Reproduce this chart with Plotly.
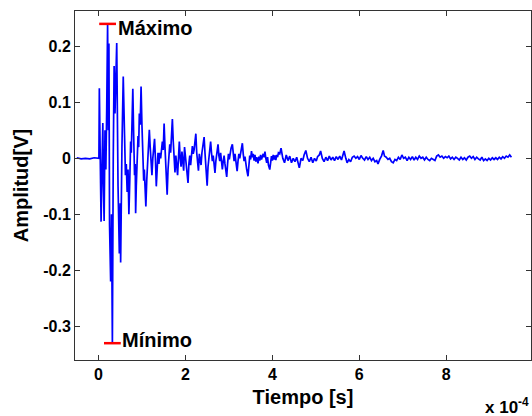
import plotly.graph_objects as go

# time in units of 1e-4 s, amplitude in V
t_burst = [-0.50, -0.40, -0.30, -0.20, -0.10, 0.00, 0.01, 0.02, 0.035, 0.06,
           0.08, 0.10, 0.115, 0.13, 0.15, 0.17, 0.19, 0.21, 0.225, 0.24,
           0.255, 0.28, 0.30, 0.32, 0.34, 0.36, 0.38, 0.42, 0.45, 0.48,
           0.50, 0.51, 0.54, 0.57]
v_burst = [0.001, -0.001, 0.000, -0.001, 0.001, 0.000, 0.000, 0.125, -0.030, -0.113,
           -0.020, 0.063, -0.050, -0.112, 0.050, -0.020, 0.090, 0.240, 0.050, 0.205,
           -0.120, -0.220, -0.100, -0.330, 0.000, 0.165, 0.080, 0.206, -0.050, -0.170,
           -0.080, -0.186, 0.020, 0.146]

t_decay = [0.60, 0.62, 0.64, 0.66, 0.68, 0.70, 0.72, 0.74, 0.755, 0.77,
           0.79, 0.81, 0.83, 0.845, 0.855, 0.87, 0.89, 0.91, 0.925, 0.94,
           0.96, 0.98, 1.00, 1.02, 1.04, 1.055, 1.07, 1.09, 1.11, 1.13,
           1.15, 1.17, 1.19, 1.21, 1.23, 1.25, 1.27, 1.29, 1.31, 1.33,
           1.35, 1.37, 1.39, 1.41, 1.43, 1.45, 1.47, 1.49, 1.51, 1.53,
           1.55, 1.57, 1.58, 1.60, 1.62, 1.64, 1.66, 1.68, 1.70, 1.72,
           1.74, 1.76, 1.78, 1.80, 1.82, 1.84, 1.86, 1.88, 1.90, 1.92,
           1.94, 1.96, 1.98, 2.00, 2.02, 2.04, 2.06, 2.08, 2.10, 2.12,
           2.14, 2.16, 2.18, 2.20, 2.22, 2.24, 2.26, 2.28, 2.30, 2.32,
           2.34, 2.36, 2.38, 2.40, 2.43, 2.45, 2.47, 2.50, 2.52, 2.54,
           2.56, 2.58, 2.60, 2.62, 2.64, 2.66, 2.68, 2.70, 2.72, 2.74,
           2.75, 2.77, 2.79, 2.81, 2.83, 2.85, 2.87, 2.89, 2.91, 2.93,
           2.95, 2.97, 2.99, 3.01, 3.03, 3.05, 3.08, 3.10, 3.12, 3.14,
           3.16, 3.19, 3.21, 3.23, 3.25, 3.27, 3.29, 3.31, 3.33, 3.35,
           3.37, 3.39, 3.41, 3.44, 3.46, 3.48, 3.50, 3.52, 3.54, 3.56,
           3.58, 3.60, 3.62, 3.64, 3.67, 3.69, 3.71, 3.73, 3.75, 3.77,
           3.79, 3.81, 3.83, 3.85, 3.87, 3.89, 3.91, 3.94, 3.96, 3.98,
           4.00, 4.02, 4.04, 4.06, 4.08, 4.10, 4.12, 4.14, 4.17]
v_decay = [0.040, -0.030, -0.010, -0.060, -0.020, -0.100, -0.040, 0.030, 0.010, 0.070,
           0.124, 0.040, -0.030, -0.010, -0.098, -0.050, 0.000, 0.040, 0.020, 0.080,
           0.060, 0.128, 0.060, 0.010, -0.040, -0.020, -0.065, -0.086, -0.040, 0.000,
           0.020, 0.051, 0.020, -0.010, -0.030, 0.000, 0.015, 0.035, 0.000, -0.050,
           -0.020, 0.010, -0.010, 0.010, 0.000, 0.025, 0.030, 0.015, 0.062, 0.020,
           -0.020, -0.040, -0.065, -0.020, 0.000, 0.025, 0.010, 0.035, 0.070, 0.030,
           -0.005, -0.025, 0.005, -0.010, -0.030, 0.000, 0.030, 0.000, -0.015, 0.012,
           -0.008, -0.022, 0.020, 0.005, -0.012, -0.020, -0.044, -0.010, 0.005, -0.012,
           0.008, 0.022, 0.008, 0.015, 0.030, 0.044, 0.010, -0.010, -0.022, 0.008,
           0.000, -0.012, 0.010, 0.022, 0.038, 0.010, -0.015, -0.049, -0.015, 0.005,
           0.015, 0.030, 0.010, -0.005, 0.005, -0.015, -0.026, -0.005, 0.008, 0.018,
           0.025, 0.005, -0.005, 0.010, -0.008, -0.020, -0.005, 0.005, -0.010, -0.020,
           -0.033, -0.010, 0.008, -0.002, 0.012, 0.018, 0.025, 0.005, -0.005, 0.008,
           -0.010, -0.023, -0.005, 0.008, 0.000, 0.012, 0.018, 0.027, 0.008, -0.005,
           0.003, -0.012, -0.020, -0.032, -0.008, 0.005, -0.002, 0.013, 0.002, 0.008,
           -0.004, 0.006, -0.006, 0.002, -0.009, 0.003, -0.004, 0.006, -0.002, 0.004,
           0.008, 0.002, 0.012, 0.000, -0.008, 0.002, -0.012, -0.020, -0.004, 0.004,
           -0.004, 0.006, -0.002, 0.005, -0.003, 0.006, 0.002, 0.010, 0.008]

t_tail = [4.20, 4.24, 4.28, 4.32, 4.36, 4.40, 4.44, 4.48, 4.52, 4.56,
          4.59, 4.62, 4.66, 4.70, 4.73, 4.77, 4.81, 4.85, 4.89, 4.93,
          4.97, 5.01, 5.04, 5.08, 5.11, 5.15, 5.19, 5.23, 5.27, 5.31,
          5.35, 5.39, 5.43, 5.47, 5.51, 5.55, 5.59, 5.62, 5.65, 5.69,
          5.72, 5.76, 5.80, 5.84, 5.88, 5.92, 5.96, 6.00, 6.04, 6.08,
          6.12, 6.16, 6.20, 6.24, 6.28, 6.32, 6.36, 6.40, 6.43, 6.47,
          6.51, 6.55, 6.58, 6.62, 6.66, 6.70, 6.74, 6.78, 6.82, 6.86,
          6.90, 6.94, 6.98, 7.02, 7.06, 7.10, 7.14, 7.18, 7.22, 7.26,
          7.30, 7.34, 7.38, 7.42, 7.46, 7.50, 7.54, 7.58, 7.62, 7.66,
          7.70, 7.74, 7.78, 7.82, 7.86, 7.90, 7.94, 7.98, 8.02, 8.06,
          8.10, 8.14, 8.18, 8.22, 8.26, 8.30, 8.34, 8.38, 8.42, 8.46,
          8.50, 8.54, 8.58, 8.62, 8.66, 8.70, 8.74, 8.78, 8.82, 8.86,
          8.90, 8.94, 8.98, 9.02, 9.06, 9.10, 9.14, 9.18, 9.22, 9.26,
          9.30, 9.34, 9.38, 9.42, 9.46, 9.50]
v_tail = [0.018, 0.000, -0.008, 0.006, -0.004, 0.004, -0.008, 0.000, -0.006, 0.002,
          -0.010, -0.017, 0.000, -0.004, 0.006, 0.014, 0.000, -0.006, 0.002, -0.008,
          0.000, -0.005, 0.003, 0.006, 0.013, 0.000, -0.006, 0.002, -0.004, 0.004,
          -0.003, 0.002, -0.004, 0.003, -0.002, 0.004, -0.003, 0.005, 0.013, 0.000,
          -0.008, -0.002, -0.006, 0.002, 0.004, 0.000, 0.003, -0.002, 0.005, 0.000,
          -0.003, 0.003, -0.002, 0.002, -0.004, 0.000, -0.006, -0.004, -0.010, -0.002,
          0.004, 0.014, 0.004, 0.002, -0.002, 0.000, -0.006, -0.008, -0.002, -0.004,
          0.002, -0.002, 0.006, 0.000, 0.002, -0.004, 0.002, -0.002, 0.003, -0.003,
          0.002, -0.002, 0.004, 0.000, 0.002, -0.003, 0.002, -0.002, -0.004, 0.000,
          -0.002, -0.004, 0.004, 0.006, 0.002, 0.004, 0.000, 0.003, 0.001, 0.004,
          -0.001, 0.002, -0.002, 0.002, 0.000, -0.003, 0.002, -0.002, 0.001, -0.003,
          0.002, 0.004, 0.000, 0.003, -0.002, 0.002, -0.001, -0.003, 0.002, -0.004,
          -0.001, -0.004, 0.000, -0.003, 0.001, -0.002, 0.001, -0.002, 0.002, -0.001,
          0.003, 0.000, 0.004, 0.002, 0.006, 0.002]

t = t_burst + t_decay + t_tail
amplitude = v_burst + v_decay + v_tail

extreme_t = [0.21, 0.32]
extreme_v = [0.240, -0.330]
extreme_labels = ["Máximo", "Mínimo"]

x_ticks = [0, 2, 4, 6, 8]
y_ticks = [-0.3, -0.2, -0.1, 0, 0.1, 0.2]
y_ticklabels = ["-0.3", "-0.2", "-0.1", "0", "0.1", "0.2"]

FONT = "Liberation Sans, Arial, sans-serif"

fig = go.Figure()
fig.add_trace(go.Scatter(x=t, y=amplitude, mode="lines",
                         line=dict(color="#0000FF", width=1.7), showlegend=False))
fig.add_trace(go.Scatter(x=extreme_t, y=extreme_v, mode="markers",
                         marker=dict(symbol="line-ew", size=12, line=dict(color="#FF0000", width=2.5)),
                         showlegend=False))

label_shifts = [(8, -4), (8, 3)]
for xt, yv, lab, (dx, dy) in zip(extreme_t, extreme_v, extreme_labels, label_shifts):
    fig.add_annotation(x=xt, y=yv, text=lab, showarrow=False, xanchor="left", yanchor="middle",
                       xshift=dx, yshift=dy,
                       font=dict(family=FONT, size=20, color="black", weight="bold"))

axis_common = dict(showline=True, linecolor="#333333", linewidth=1, mirror="ticks",
                   ticks="inside", ticklen=5, tickcolor="#333333", showgrid=False, zeroline=False,
                   tickfont=dict(family=FONT, size=16, color="black", weight="bold"))

fig.update_xaxes(range=[-0.54, 9.95], tickvals=x_ticks, ticktext=[str(v) for v in x_ticks],
                 title=dict(text="Tiempo [s]", font=dict(family=FONT, size=20, color="black", weight="bold"),
                            standoff=7),
                 **axis_common)
fig.update_yaxes(range=[-0.36, 0.263], tickvals=y_ticks, ticktext=y_ticklabels,
                 title=dict(text="Amplitud[V]", font=dict(family=FONT, size=20, color="black", weight="bold"),
                            standoff=9),
                 **axis_common)

fig.add_annotation(text="x 10<sup>-4</sup>", xref="paper", yref="paper", x=1.0, y=0, xanchor="right",
                   yanchor="top", yshift=-33, showarrow=False,
                   font=dict(family=FONT, size=17, color="black", weight="bold"))

fig.update_layout(width=532, height=416, margin=dict(l=75, r=1, t=11, b=56),
                  plot_bgcolor="white", paper_bgcolor="white")

fig.write_html("out.html")
